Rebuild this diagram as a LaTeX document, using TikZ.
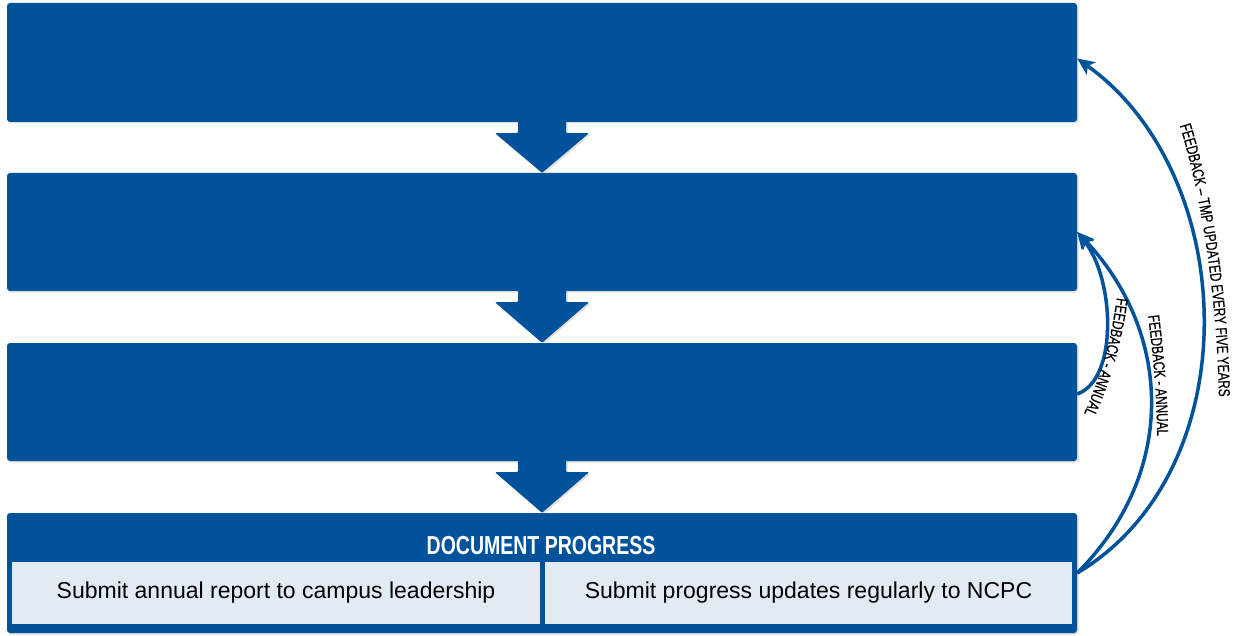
\documentclass[tikz,border=0pt]{standalone}
\usepackage{fontspec}
\setmainfont{Liberation Sans}
\newfontfamily\headfont[FakeStretch=0.75]{Liberation Sans}
\newfontfamily\lblfont[FakeStretch=0.73,FakeBold=0.5]{Liberation Sans}
\usetikzlibrary{calc,arrows.meta,shadows,decorations.text}
\definecolor{navy}{RGB}{0,82,155}
\definecolor{cellfill}{RGB}{226,234,243}
\tikzset{
  stagebox/.style={fill=navy, rounded corners=3pt, minimum width=1070pt, inner sep=0pt,
    drop shadow={opacity=0.25, shadow xshift=1.5pt, shadow yshift=-1.5pt}},
  cellbox/.style={fill=cellfill, minimum height=62pt, inner sep=0pt,
    font=\fontsize{23}{27}\selectfont},
  downarrow/.style={fill=navy, rounded corners=1pt,
    drop shadow={opacity=0.25, shadow xshift=1.5pt, shadow yshift=-1.5pt}},
  feedback/.style={draw=navy, line width=3.5pt,
    -{Stealth[length=17pt, width=15pt, inset=4pt]}},
  % curved label text, set along an invisible guide path
  fbtext/.style={decorate, decoration={text along path, text align=center,
    text={|\lblfont\fontsize{16}{18}\selectfont|#1}}}
}
\begin{document}
\begin{tikzpicture}[x=1pt, y=-1pt]
  \useasboundingbox (0,0) rectangle (1239,636);

  % four stage boxes
  \node[stagebox, minimum height=119pt] (b1) at (542,62.5) {};
  \node[stagebox, minimum height=118pt] (b2) at (542,232) {};
  \node[stagebox, minimum height=118pt] (b3) at (542,402) {};
  \node[stagebox, minimum height=120pt] (b4) at (542,573) {};

  % block arrows between stages
  \foreach \a/\b in {b1/b2, b2/b3, b3/b4} {
    \path[downarrow]
      ($(\a.south)+(-24,-3)$) -- ($(\a.south)+(24,-3)$) -- ($(\a.south)+(24,11)$)
      -- ($(\a.south)+(47,11)$) -- (\b.north) -- ($(\a.south)+(-47,11)$)
      -- ($(\a.south)+(-24,11)$) -- cycle;
  }

  % last stage contents
  \node[text=white, font=\headfont\bfseries\fontsize{26}{30}\selectfont] (hd) at (541,546) {DOCUMENT PROGRESS};
  \node[cellbox, minimum width=528pt] (c1) at (276,593) {Submit annual report to campus leadership};
  \node[cellbox, minimum width=527pt] (c2) at (808.5,593) {Submit progress updates regularly to NCPC};

  % feedback loops
  \draw[feedback] (b4.east) .. controls (1250,470) and (1240,175) .. ($(b1.east)+(0,-4)$);
  \draw[feedback] (b4.east) .. controls (1180,470) and (1170,330) .. (b2.east);
  \draw[feedback] ($(b3.east)+(0,-8)$) .. controls (1118,380) and (1115,280) .. (b2.east);

  % loop labels
  \path[fbtext={FEEDBACK – TMP UPDATED EVERY FIVE YEARS}]
    (1174,108) .. controls (1201,185) and (1219,305) .. (1219,415);
  \path[fbtext={FEEDBACK - ANNUAL}]
    (1145,296) .. controls (1152,340) and (1158,400) .. (1157,456);
  \path[fbtext={FEEDBACK - ANNUAL}]
    (1118,286) .. controls (1114,330) and (1101,380) .. (1079,424);
\end{tikzpicture}
\end{document}
